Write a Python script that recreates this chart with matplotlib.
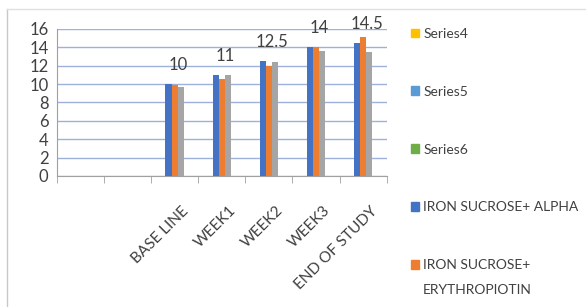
import numpy as np
import matplotlib.pyplot as plt
from matplotlib.patches import Patch

plt.rcParams['font.family'] = ['Lato', 'DejaVu Sans']

categories = ['', '', 'BASE LINE', 'WEEK1', 'WEEK2', 'WEEK3', 'END OF STUDY']
alpha = [np.nan, np.nan, 10, 11, 12.5, 14, 14.5]
erythro = [np.nan, np.nan, 9.9, 10.5, 12, 14, 15.1]
series3 = [np.nan, np.nan, 9.7, 11, 12.4, 13.6, 13.5]
labels = ['10', '11', '12.5', '14', '14.5']

fig = plt.figure(figsize=(5.86, 3.07), dpi=100)
ax = fig.add_axes([0.097, 0.427, 0.563, 0.479])

x = np.arange(len(categories))
w = 0.13
ax.bar(x - w, alpha, w, color='#4472C4', zorder=3)
ax.bar(x, erythro, w, color='#ED7D31', zorder=3)
ax.bar(x + w, series3, w, color='#A5A5A5', zorder=3)

# data labels above the ALPHA bars
for i, t in enumerate(labels):
    ax.text(x[i + 2] + 0.07, alpha[i + 2] + 1.2, t, ha='center', va='bottom',
            fontsize=12, color='#404040')

ax.set_xlim(-0.5, len(categories) - 0.5)
ax.set_ylim(0, 16)
ax.set_yticks(range(0, 17, 2))
ax.tick_params(axis='y', length=0, labelsize=12, labelcolor='#404040', pad=6)
ax.yaxis.grid(True, color='#9DB1DA', linewidth=1, zorder=0)
# labels on major ticks, category separators on minor ticks
ax.set_xticks(x + 0.15)
ax.set_xticklabels(categories, rotation=45, ha='right',
                   rotation_mode='anchor', fontsize=11, color='#404040')
ax.tick_params(axis='x', which='major', length=0, pad=20)
ax.set_xticks(np.arange(len(categories) + 1) - 0.5, minor=True)
ax.tick_params(axis='x', which='minor', length=5, color='#A0A0A0', direction='out')
for s in ['top', 'right']:
    ax.spines[s].set_visible(False)
ax.spines['left'].set_color('#A0A0A0')
ax.spines['bottom'].set_color('#A0A0A0')

handles = [Patch(color='#FFC000'), Patch(color='#5B9BD5'), Patch(color='#70AD47'),
           Patch(color='#4472C4'), Patch(color='#ED7D31')]
names = ['Series4', 'Series5', 'Series6', 'IRON SUCROSE+ ALPHA', 'IRON SUCROSE+']
fig.legend(handles, names, loc='upper left', bbox_to_anchor=(0.68, 0.95),
           frameon=False, fontsize=10, labelspacing=3.3, handlelength=0.6,
           handleheight=0.6, handletextpad=0.3, labelcolor='#404040')
# second line of the last legend entry
fig.text(0.722, 1 - 290 / 307, 'ERYTHROPIOTIN', fontsize=10, color='#404040',
         va='center', ha='left')

# outer frame lines of the chart box
fig.add_artist(plt.Line2D([0.012, 0.012], [0, 0.97], color='#C8C8C8', lw=1))
fig.add_artist(plt.Line2D([0.012, 1.0], [0.97, 0.97], color='#E0E0E0', lw=1))

fig.savefig('out.png', dpi=100)
